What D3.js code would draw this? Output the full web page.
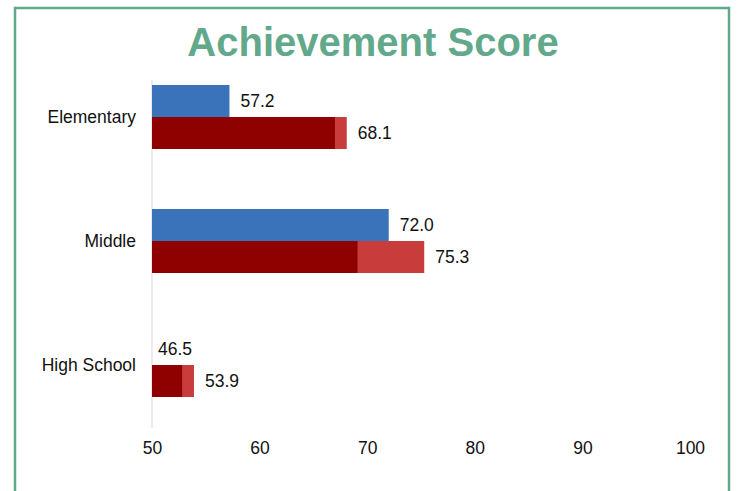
<!DOCTYPE html>
<html>
<head>
<meta charset="utf-8">
<script src="https://cdn.jsdelivr.net/npm/d3@7"></script>
<style>
  html, body { margin: 0; padding: 0; background: #ffffff; }
  svg { display: block; font-family: "Liberation Sans", Arial, sans-serif; }
</style>
</head>
<body>
<svg id="chart" width="737" height="491"></svg>
<script>
// School levels shown on the vertical axis
const categories = ["Elementary", "Middle", "High School"];
// Blue series: score per level
const blueValues = [57.2, 72.0, 46.5];
// Red series: total score per level
const redValues = [68.1, 75.3, 53.9];
// Dark red part of the red bar (ends before the total)
const redBaseValues = [67.0, 69.1, 52.8];
// Horizontal axis ticks
const xTicks = [50, 60, 70, 80, 90, 100];

const svg = d3.select("#chart");
const green = "#62a98b";
const fontSize = 17.5;

// frame
svg.append("rect")
  .attr("x", 15).attr("y", 8)
  .attr("width", 714).attr("height", 500)
  .attr("fill", "none")
  .attr("stroke", green)
  .attr("stroke-width", 2.5);

// title
svg.append("text")
  .attr("x", 373).attr("y", 56)
  .attr("text-anchor", "middle")
  .attr("font-size", 40)
  .attr("font-weight", "bold")
  .attr("fill", green)
  .text("Achievement Score");

const x = d3.scaleLinear().domain([50, 100]).range([152, 690]);
const y = d3.scaleBand().domain(categories).range([55, 427])
  .paddingInner(60 / 124).paddingOuter(30 / 124);
const bh = y.bandwidth() / 2;

// vertical axis line
svg.append("line")
  .attr("x1", x(50)).attr("x2", x(50))
  .attr("y1", 80).attr("y2", 428)
  .attr("stroke", "#d9d9d9").attr("stroke-width", 1);

// category labels
svg.append("g").selectAll("text").data(categories).join("text")
  .attr("x", 136)
  .attr("y", d => y(d) + bh)
  .attr("dy", "0.35em")
  .attr("text-anchor", "end")
  .attr("font-size", fontSize)
  .attr("fill", "#111")
  .text(d => d);

// x tick labels from a D3 axis, without its line and ticks
const xAxis = svg.append("g")
  .attr("transform", "translate(0,440)")
  .call(d3.axisBottom(x).tickValues(xTicks).tickSize(0).tickPadding(0).tickFormat(d3.format("d")));
xAxis.select(".domain").remove();
xAxis.selectAll("text")
  .attr("font-size", fontSize)
  .attr("font-family", "Liberation Sans, Arial, sans-serif")
  .attr("fill", "#111")
  .attr("dy", "0.35em")
  .attr("y", 8);

const clampX = v => x(Math.max(v, 50));

// blue bars
svg.append("g").selectAll("rect").data(categories).join("rect")
  .attr("x", x(50))
  .attr("y", d => y(d))
  .attr("width", (d, i) => clampX(blueValues[i]) - x(50))
  .attr("height", bh)
  .attr("fill", "#3a73ba");

// red bars: light full length, dark base on top
svg.append("g").selectAll("rect").data(categories).join("rect")
  .attr("x", x(50))
  .attr("y", d => y(d) + bh)
  .attr("width", (d, i) => clampX(redValues[i]) - x(50))
  .attr("height", bh)
  .attr("fill", "#c83c3b");
svg.append("g").selectAll("rect").data(categories).join("rect")
  .attr("x", x(50))
  .attr("y", d => y(d) + bh)
  .attr("width", (d, i) => clampX(redBaseValues[i]) - x(50))
  .attr("height", bh)
  .attr("fill", "#8f0000");

// value labels
const fmt = d3.format(".1f");
const labelX = v => Math.max(x(v) + 11, x(50) + 6);
svg.append("g").selectAll("text").data(categories).join("text")
  .attr("x", (d, i) => labelX(blueValues[i]))
  .attr("y", d => y(d) + bh / 2)
  .attr("dy", "0.35em")
  .attr("font-size", fontSize)
  .attr("fill", "#111")
  .text((d, i) => fmt(blueValues[i]));
svg.append("g").selectAll("text").data(categories).join("text")
  .attr("x", (d, i) => labelX(redValues[i]))
  .attr("y", d => y(d) + bh * 1.5)
  .attr("dy", "0.35em")
  .attr("font-size", fontSize)
  .attr("fill", "#111")
  .text((d, i) => fmt(redValues[i]));
</script>
</body>
</html>
